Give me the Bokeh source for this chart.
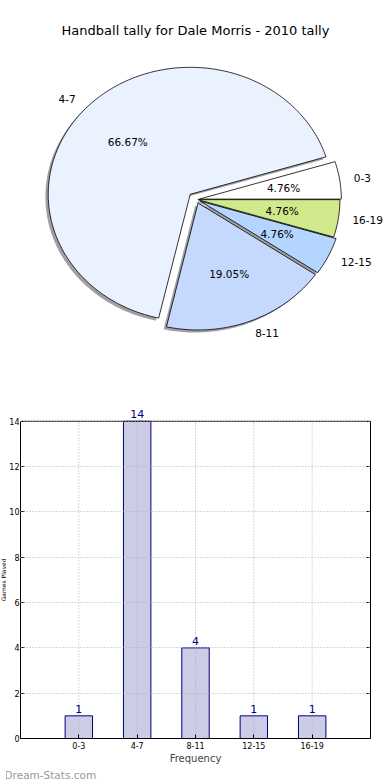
import math
from bokeh.plotting import figure
from bokeh.models import Range1d, Label, LabelSet, ColumnDataSource, FixedTicker, LinearAxis, Span, Title
from bokeh.layouts import column, row
from bokeh.embed import file_html
from bokeh.resources import INLINE
from bokeh.core.properties import value

# ---------------- data ----------------
title_text = "Handball tally for Dale Morris - 2010 tally"
categories = ["0-3", "4-7", "8-11", "12-15", "16-19"]
counts = [1, 14, 4, 1, 1]
pie_colors = ["#ffffff", "#eaf2ff", "#c5d9ff", "#b3d5ff", "#d0ea8b"]
explode = [0.02, 0.06, 0.03, 0.03, 0.01]
y_ticks = [0, 2, 4, 6, 8, 10, 12, 14]
x_label = "Frequency"
y_label = "Games Played"
watermark = "Dream-Stats.com"

FONT = "DejaVu Sans"
W, H1, H2 = 390, 385, 395
LW = 6  # width of the y-label strip

# ---------------- pie ----------------
pie = figure(frame_width=W, frame_height=H1, x_range=Range1d(-1.380, 1.366), y_range=Range1d(-1.465, 1.567),
             output_backend="svg", toolbar_location=None, min_border=0,
             min_border_left=0, min_border_right=0, min_border_top=0, min_border_bottom=0,
             x_axis_location=None, y_axis_location=None)
pie.grid.visible = False
pie.outline_line_color = None

total = float(sum(counts))
theta = 0.0
wx, wy, sxs, sys_ = [], [], [], []
lab_x, lab_y, lab_t, lab_al = [], [], [], []
pct_x, pct_y, pct_t = [], [], []
for cat, v, e in zip(categories, counts, explode):
    t1 = theta
    t2 = theta + 360.0 * v / total
    theta = t2
    mid = math.radians((t1 + t2) / 2)
    ox, oy = e * math.cos(mid), e * math.sin(mid)
    n = max(int(t2 - t1) + 2, 4)
    arc = [math.radians(t1 + (t2 - t1) * i / (n - 1)) for i in range(n)]
    px = [ox] + [ox + math.cos(a) for a in arc]
    py = [oy] + [oy + math.sin(a) for a in arc]
    wx.append(px)
    wy.append(py)
    sxs.append([x - 0.02 for x in px])
    sys_.append([y - 0.02 for y in py])
    lab_x.append((1.1 + e) * math.cos(mid))
    lab_y.append((1.1 + e) * math.sin(mid))
    lab_t.append(cat)
    lab_al.append("left" if math.cos(mid) >= 0 else "right")
    pct_x.append(ox + 0.6 * math.cos(mid))
    pct_y.append(oy + 0.6 * math.sin(mid))
    pct_t.append(f"{v / total * 100:.2f}%")

pie.patches(sxs, sys_, fill_color="#808080", fill_alpha=0.75, line_color=None)
pie.patches(wx, wy, fill_color=pie_colors, line_color="black", line_width=0.8)

pie.text(x=lab_x, y=lab_y, text=lab_t, text_align=lab_al, text_baseline="middle",
         text_font=value(FONT), text_font_size="10.5px", text_color="black")
pie.text(x=pct_x, y=pct_y, text=pct_t, text_align="center", text_baseline="middle",
         text_font=value(FONT), text_font_size="10.5px", text_color="black")
pie.add_layout(Label(x=-0.007, y=1.331, text=title_text, text_align="center", text_baseline="middle",
                     text_font=FONT, text_font_size="13px", text_color="black"))

# ---------------- bar ----------------
xs = list(range(len(categories)))
ymax = y_ticks[-1]
yr = Range1d(0, ymax + 1.58)
BB = 41
bar = figure(width=W - LW, height=H2, x_range=Range1d(-1, 5), y_range=yr,
             output_backend="svg", toolbar_location=None,
             min_border_left=11, min_border_right=20, min_border_top=0, min_border_bottom=BB)
bar.outline_line_color = None

bar.vbar(x=xs, top=counts, bottom=0, width=0.47, fill_color="#ccccE6", line_color="#000080", line_width=1)

# dotted vertical grid (limited to the axis box)
bar.segment(x0=xs, y0=[0] * len(xs), x1=xs, y1=[ymax] * len(xs),
            line_color="#b0b0b0", line_dash="1 2", line_width=1)
bar.xgrid.visible = False
bar.ygrid.ticker = FixedTicker(ticks=y_ticks)
bar.ygrid.grid_line_color = "#b0b0b0"
bar.ygrid.grid_line_dash = "1 2"
bar.ygrid.level = "overlay"

right_axis = LinearAxis(ticker=FixedTicker(ticks=[], minor_ticks=y_ticks))
bar.add_layout(right_axis, "right")
right_axis.bounds = (0, ymax)
right_axis.minor_tick_in = 4
right_axis.minor_tick_out = 0
right_axis.minor_tick_line_color = "black"
right_axis.axis_line_color = "black"

bar.xaxis.ticker = FixedTicker(ticks=xs)
bar.xaxis.major_label_overrides = {i: c for i, c in zip(xs, categories)}
bar.yaxis[0].ticker = FixedTicker(ticks=y_ticks)
bar.yaxis[0].bounds = (0, ymax)
for ax in (bar.xaxis[0], bar.yaxis[0]):
    ax.major_tick_in = 4
    ax.major_tick_out = 0
    ax.minor_tick_line_color = None
    ax.axis_line_color = "black"
    ax.major_tick_line_color = "black"
    ax.major_label_text_font = FONT
    ax.major_label_text_font_size = "8px"
    ax.major_label_text_color = "black"
    ax.major_label_standoff = 3
bar.yaxis[0].major_label_standoff = 1

bar.add_layout(Span(location=ymax, dimension="width", line_color="black", line_width=1))

bar.xaxis.axis_label = x_label
bar.xaxis.axis_label_text_font = FONT
bar.xaxis.axis_label_text_font_size = "10px"
bar.xaxis.axis_label_text_font_style = "normal"
bar.xaxis.axis_label_standoff = 1

src = ColumnDataSource(dict(x=xs, y=counts, t=[str(c) for c in counts]))
bar.add_layout(LabelSet(x="x", y="y", text="t", source=src, text_align="center", text_baseline="bottom",
                        y_offset=3, text_font=value(FONT), text_font_size="11px", text_color="#000080"))

bar.add_layout(Title(text=watermark, align="left", offset=-16, standoff=0, text_font=FONT,
                     text_font_size="10.5px", text_font_style="normal", text_color="#999999"), "below")

# narrow strip holding the rotated y label
ylab = figure(width=LW, height=H2, x_range=Range1d(0, 1), y_range=yr,
              output_backend="svg", toolbar_location=None,
              min_border_left=0, min_border_right=0, min_border_top=0, min_border_bottom=BB,
              x_axis_location=None, y_axis_location=None)
ylab.grid.visible = False
ylab.outline_line_color = None
ylab.text(x=[0.5], y=[ymax / 2], text=[y_label], angle=math.pi / 2, text_align="center",
          text_baseline="middle", text_font=value(FONT), text_font_size="6px", text_color="black")

layout = column(pie, row(ylab, bar, spacing=0), spacing=0)
open("out.html", "w").write(file_html(layout, INLINE))
